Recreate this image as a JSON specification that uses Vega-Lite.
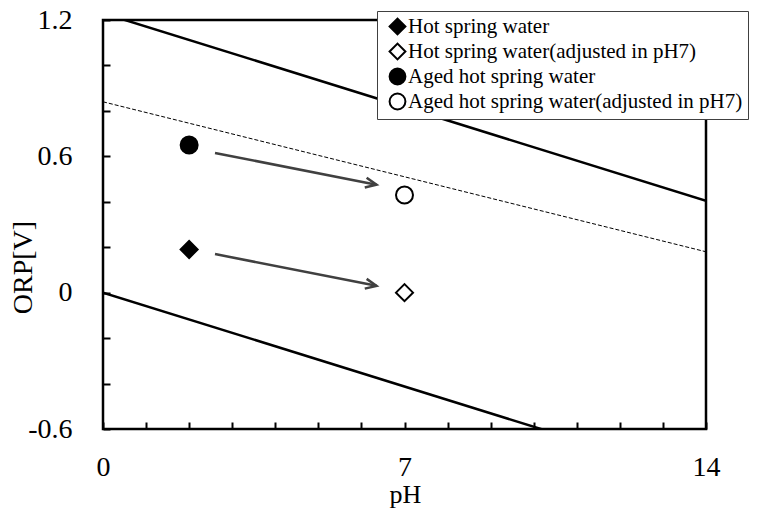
{
  "$schema": "https://vega.github.io/schema/vega-lite/v6.json",
  "width": 603,
  "height": 409,
  "autosize": {"type": "none"},
  "padding": {"left": 103, "top": 20, "right": 52, "bottom": 80},
  "background": "white",
  "config": {
    "view": {"stroke": "black", "strokeWidth": 2.5},
    "font": "Liberation Serif",
    "axis": {"labelFont": "Liberation Serif", "titleFont": "Liberation Serif"},
    "legend": {"labelFont": "Liberation Serif"}
  },
  "datasets": {
    "points": [
      {"series": "Hot spring water", "pH": 2, "ORP": 0.19},
      {"series": "Hot spring water(adjusted in pH7)", "pH": 7, "ORP": 0.0},
      {"series": "Aged hot spring water", "pH": 2, "ORP": 0.65},
      {"series": "Aged hot spring water(adjusted in pH7)", "pH": 7, "ORP": 0.43}
    ],
    "solid": [
      {"line": "O2/H2O", "pH": 0, "ORP": 1.23},
      {"line": "O2/H2O", "pH": 14, "ORP": 0.404},
      {"line": "H2O/H2", "pH": 0, "ORP": 0.0},
      {"line": "H2O/H2", "pH": 14, "ORP": -0.826}
    ],
    "dashed": [
      {"pH": 0, "ORP": 0.84},
      {"pH": 14, "ORP": 0.18}
    ],
    "arrows": [
      {"pH": 2.6, "ORP": 0.615, "pH2": 6.35, "ORP2": 0.475},
      {"pH": 2.6, "ORP": 0.17, "pH2": 6.35, "ORP2": 0.03}
    ]
  },
  "layer": [
    {
      "data": {"name": "solid"},
      "mark": {"type": "line", "color": "black", "strokeWidth": 2.5, "clip": true},
      "encoding": {
        "x": {
          "field": "pH", "type": "quantitative",
          "scale": {"domain": [0, 14], "nice": false, "zero": false},
          "axis": {
            "values": [0,1,2,3,4,5,6,7,8,9,10,11,12,13,14],
            "labelExpr": "datum.value % 7 == 0 ? datum.label : ''",
            "labelFlush": false, "labelOverlap": false,
            "domain": false, "grid": false,
            "tickSize": -7, "tickWidth": 2, "tickColor": "black",
            "labelFont": "Liberation Serif", "labelFontSize": 28, "labelColor": "black",
            "labelPadding": 45, "labelBaseline": "middle",
            "title": "pH", "titleFont": "Liberation Serif", "titleFontSize": 26,
            "titleFontWeight": "normal", "titleColor": "black",
            "titleBaseline": "alphabetic", "titleY": 73, "titleX": 302
          }
        },
        "y": {
          "field": "ORP", "type": "quantitative",
          "scale": {"domain": [-0.6, 1.2], "nice": false, "zero": false},
          "axis": {
            "values": [-0.6,-0.5,-0.4,-0.3,-0.2,-0.1,0,0.1,0.2,0.3,0.4,0.5,0.6,0.7,0.8,0.9,1.0,1.1,1.2],
            "labelExpr": "abs(datum.value - 0.6*round(datum.value/0.6)) < 0.001 ? toString(round(datum.value*10)/10) : ''",
            "labelFlush": false, "labelOverlap": false,
            "domain": false, "grid": false,
            "tickSize": -7, "tickWidth": 2, "tickColor": "black",
            "labelFont": "Liberation Serif", "labelFontSize": 28, "labelColor": "black",
            "labelPadding": 38,
            "title": "ORP[V]", "titleFont": "Liberation Serif", "titleFontSize": 28,
            "titleFontWeight": "normal", "titleColor": "black",
            "titleAngle": -90, "titleAlign": "center", "titleBaseline": "middle",
            "titleX": -80, "titleY": 247
          }
        },
        "detail": {"field": "line"}
      }
    },
    {
      "data": {"name": "dashed"},
      "mark": {"type": "line", "color": "black", "strokeWidth": 1, "strokeDash": [4, 2], "clip": true},
      "encoding": {
        "x": {"field": "pH", "type": "quantitative"},
        "y": {"field": "ORP", "type": "quantitative"}
      }
    },
    {
      "data": {"name": "arrows"},
      "mark": {"type": "rule", "color": "#404040", "strokeWidth": 2.5},
      "encoding": {
        "x": {"field": "pH", "type": "quantitative"},
        "y": {"field": "ORP", "type": "quantitative"},
        "x2": {"field": "pH2"},
        "y2": {"field": "ORP2"}
      }
    },
    {
      "data": {"name": "arrows"},
      "mark": {"type": "point", "shape": "M -2 -0.9 L 0 0 L -2 0.9", "filled": false, "stroke": "#404040", "strokeWidth": 2.5, "size": 121, "angle": 11, "opacity": 1},
      "encoding": {
        "x": {"field": "pH2", "type": "quantitative"},
        "y": {"field": "ORP2", "type": "quantitative"}
      }
    },
    {
      "data": {"name": "points"},
      "mark": {"type": "point", "filled": true, "strokeWidth": 2, "size": 289, "opacity": 1},
      "encoding": {
        "x": {"field": "pH", "type": "quantitative"},
        "y": {"field": "ORP", "type": "quantitative"},
        "shape": {
          "field": "series", "type": "nominal",
          "scale": {
            "domain": ["Hot spring water", "Hot spring water(adjusted in pH7)", "Aged hot spring water", "Aged hot spring water(adjusted in pH7)"],
            "range": ["diamond", "diamond", "circle", "circle"]
          },
          "legend": {
            "title": null, "orient": "none", "legendX": 274, "legendY": -9,
            "strokeColor": "#404040", "fillColor": "white",
            "padding": 5, "rowPadding": 0, "symbolOffset": 5,
            "labelFont": "Liberation Serif", "labelFontSize": 21, "labelColor": "black",
            "labelLimit": 500, "labelOffset": 0,
            "symbolSize": 250, "symbolStrokeWidth": 2, "symbolOpacity": 1
          }
        },
        "fill": {
          "field": "series", "type": "nominal",
          "scale": {
            "domain": ["Hot spring water", "Hot spring water(adjusted in pH7)", "Aged hot spring water", "Aged hot spring water(adjusted in pH7)"],
            "range": ["black", "white", "black", "white"]
          },
          "legend": {
            "title": null, "orient": "none", "legendX": 274, "legendY": -9,
            "strokeColor": "#404040", "fillColor": "white",
            "padding": 5, "rowPadding": 0, "symbolOffset": 5,
            "labelFont": "Liberation Serif", "labelFontSize": 21, "labelColor": "black",
            "labelLimit": 500, "labelOffset": 0,
            "symbolSize": 250, "symbolStrokeWidth": 2, "symbolOpacity": 1
          }
        },
        "stroke": {
          "field": "series", "type": "nominal",
          "scale": {
            "domain": ["Hot spring water", "Hot spring water(adjusted in pH7)", "Aged hot spring water", "Aged hot spring water(adjusted in pH7)"],
            "range": ["black", "black", "black", "black"]
          },
          "legend": {
            "title": null, "orient": "none", "legendX": 274, "legendY": -9,
            "strokeColor": "#404040", "fillColor": "white",
            "padding": 5, "rowPadding": 0, "symbolOffset": 5,
            "labelFont": "Liberation Serif", "labelFontSize": 21, "labelColor": "black",
            "labelLimit": 500, "labelOffset": 0,
            "symbolSize": 250, "symbolStrokeWidth": 2, "symbolOpacity": 1
          }
        }
      }
    }
  ]
}
